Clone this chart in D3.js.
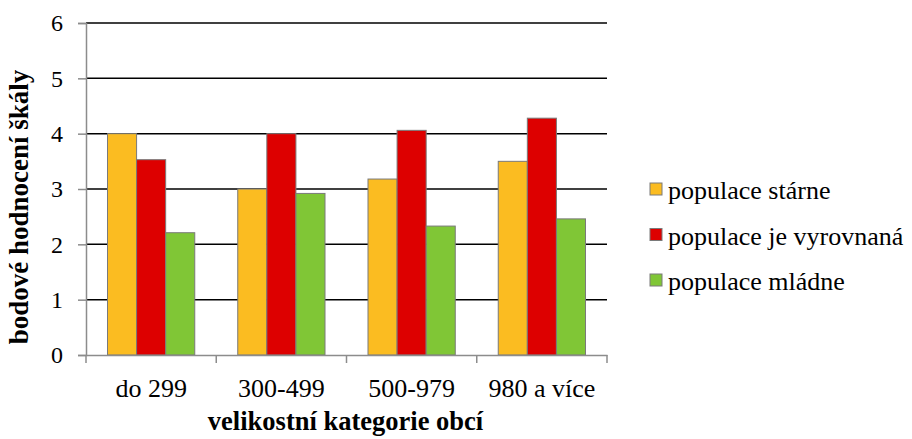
<!DOCTYPE html>
<html>
<head>
<meta charset="utf-8">
<script src="https://cdn.jsdelivr.net/npm/d3@7"></script>
<style>
  body { margin: 0; background: #fff; }
</style>
</head>
<body>
<svg width="912" height="439"></svg>
<script>
var categories = ["do 299", "300-499", "500-979", "980 a více"];
var seriesNames = ["populace stárne", "populace je vyrovnaná", "populace mládne"];
var starne = [4.0, 3.0, 3.18, 3.5];
var vyrovnana = [3.53, 4.0, 4.06, 4.28];
var mladne = [2.21, 2.92, 2.33, 2.46];
var yTicks = [0, 1, 2, 3, 4, 5, 6];

var colors = ["#FBBC21", "#DD0000", "#80C636"];
var series = [starne, vyrovnana, mladne];
var serif = "'Liberation Serif', 'Times New Roman', serif";

var svg = d3.select("svg"),
  plotLeft = 86, plotRight = 607, plotTop = 23, plotBottom = 355;

var x = d3.scaleBand().domain(categories).range([plotLeft, plotRight]);
var y = d3.scaleLinear().domain([0, 6]).range([plotBottom, plotTop]);
var inner = d3.scaleBand().domain(d3.range(series.length))
  .range([21.5, x.bandwidth() - 21.5]);

// gridlines
svg.append("g")
  .selectAll("line")
  .data(yTicks.filter(function(d) { return d > 0; }))
  .enter().append("line")
  .attr("x1", plotLeft).attr("x2", plotRight)
  .attr("y1", function(d) { return y(d); })
  .attr("y2", function(d) { return y(d); })
  .attr("stroke", "#000").attr("stroke-width", 1.5);

// bars
var groups = svg.append("g")
  .selectAll("g")
  .data(series)
  .enter().append("g")
  .attr("fill", function(d, i) { return colors[i]; });

groups.each(function(vals, si) {
  d3.select(this).selectAll("rect")
    .data(vals)
    .enter().append("rect")
    .attr("x", function(d, ci) { return x(categories[ci]) + inner(si); })
    .attr("width", inner.bandwidth())
    .attr("y", function(d) { return y(d); })
    .attr("height", function(d) { return plotBottom - y(d); })
    .attr("stroke", "#7a7a7a")
    .attr("stroke-width", 1);
});

// y axis
var yAxis = svg.append("g")
  .attr("transform", "translate(" + plotLeft + ",0)")
  .call(d3.axisLeft(y).tickValues(yTicks).tickFormat(d3.format("d")).tickSize(8).tickPadding(15));
yAxis.attr("font-family", serif);
yAxis.select(".domain").attr("stroke", "#8c8c8c").attr("stroke-width", 1.5);
yAxis.selectAll(".tick line").attr("stroke", "#8c8c8c").attr("stroke-width", 1.5);
yAxis.selectAll("text").style("font-family", serif).style("font-size", "24px").attr("dy", "0.33em");

// x axis
var xAxis = svg.append("g")
  .attr("transform", "translate(0," + plotBottom + ")")
  .call(d3.axisBottom(x).tickSize(0).tickPadding(0));
xAxis.attr("font-family", serif);
xAxis.select(".domain").attr("stroke", "#8c8c8c").attr("stroke-width", 1.5);
xAxis.selectAll("text").style("font-family", serif).style("font-size", "26px")
  .attr("y", 42).attr("dy", null);
svg.append("g")
  .selectAll("line")
  .data(categories.concat([null]))
  .enter().append("line")
  .attr("x1", function(d, i) { return plotLeft + i * x.bandwidth(); })
  .attr("x2", function(d, i) { return plotLeft + i * x.bandwidth(); })
  .attr("y1", plotBottom).attr("y2", plotBottom + 8)
  .attr("stroke", "#8c8c8c").attr("stroke-width", 1.5);

// axis titles
svg.append("text")
  .attr("transform", "translate(28,207) rotate(-90)")
  .attr("text-anchor", "middle")
  .style("font-family", serif)
  .style("font-size", "27px").style("font-weight", "bold")
  .text("bodové hodnocení škály");

svg.append("text")
  .attr("x", 345.5).attr("y", 430)
  .attr("text-anchor", "middle")
  .style("font-family", serif)
  .style("font-size", "26.5px").style("font-weight", "bold")
  .text("velikostní kategorie obcí");

// legend
var legend = svg.append("g")
  .selectAll("g")
  .data(seriesNames)
  .enter().append("g")
  .attr("transform", function(d, i) { return "translate(650," + (199 + i * 45.5) + ")"; });
legend.append("rect")
  .attr("x", 0).attr("y", -16).attr("width", 12).attr("height", 12)
  .attr("fill", function(d, i) { return colors[i]; })
  .attr("stroke", "#7a7a7a").attr("stroke-width", 1);
legend.append("text")
  .attr("x", 18).attr("y", 0)
  .style("font-family", serif)
  .style("font-size", "26px")
  .text(function(d) { return d; });
</script>
</body>
</html>
